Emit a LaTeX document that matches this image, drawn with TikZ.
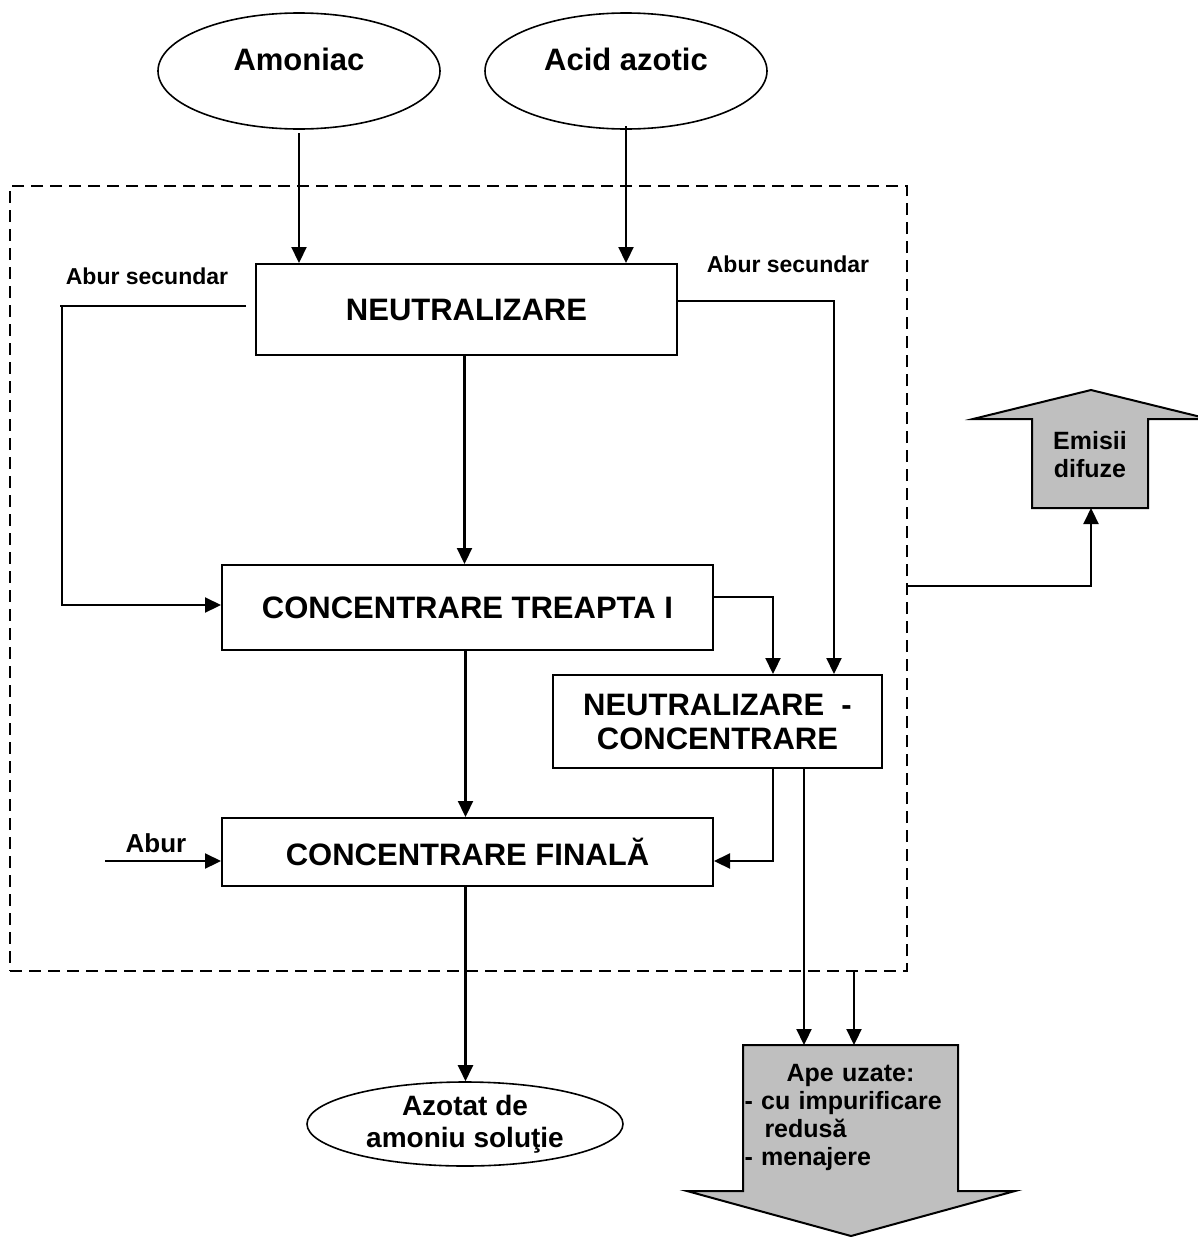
\documentclass[tikz,border=0pt]{standalone}
\usepackage{fontspec}
\setmainfont{Liberation Sans}
\usetikzlibrary{arrows.meta,shapes.geometric}
\tikzset{
	big/.style={font=\fontsize{31}{34}\selectfont\bfseries},
	small/.style={font=\fontsize{23}{26}\selectfont\bfseries},
	note/.style={font=\fontsize{25}{28}\selectfont\bfseries},
	proc/.style={draw, line width=2pt, big, align=center, inner sep=0pt},
	src/.style={draw, ellipse, line width=1.6pt, inner sep=0pt},
	flow/.style={line width=2.2pt, -{Triangle[length=16pt,width=15pt]}},
	outlet/.style={draw, line width=2pt, fill=black!25, line join=miter},
	border/.style={draw, line width=2pt, dash pattern=on 12pt off 7pt}
}

\begin{document}
\begin{tikzpicture}[x=1pt, y=-1pt]
		\useasboundingbox (0,0) rectangle (1198,1237);

		\node[border, minimum width=897pt, minimum height=785pt, inner sep=0pt] (plant) at (458.5,578.5) {};

		\node[src, minimum width=282pt, minimum height=116pt, label={[big, yshift=12pt]center:Amoniac}] (amoniac) at (299,71) {};
		\node[src, minimum width=282pt, minimum height=116pt, label={[big, yshift=12pt]center:Acid azotic}] (acid) at (626,71) {};

		\node[proc, minimum width=421pt, minimum height=91pt] (neutr) at (466.5,309.5) {NEUTRALIZARE};
		\node[proc, minimum width=491pt, minimum height=85pt] (conc1) at (467.5,607.5) {CONCENTRARE TREAPTA I};
		\node[proc, minimum width=329pt, minimum height=93pt] (neuconc) at (717.5,721.5) {NEUTRALIZARE\ \ -\\CONCENTRARE};
		\node[proc, minimum width=491pt, minimum height=68pt] (concfin) at (467.5,852) {CONCENTRARE FINALĂ};
		\node[src, minimum width=316pt, minimum height=84pt, font=\fontsize{28}{32}\selectfont\bfseries, align=center] (azotat) at (465,1124) {Azotat de\\amoniu soluţie};

		\node[small] (abur-st) at (147,276) {Abur secundar};
		\node[small] (abur-dr) at (788,264) {Abur secundar};
		\node[font=\fontsize{26}{28}\selectfont\bfseries] (abur) at (156,843) {Abur};

		\draw[outlet] (1032,508) -- (1032,419) -- (973,419) -- (1091,390) -- (1209,419) -- (1148,419) -- (1148,508) -- cycle;
		\node[note, align=center] (emisii) at (1090,455) {Emisii\\difuze};
		\coordinate (emisii-in) at (1091,508);

		\draw[outlet] (743,1045) -- (958,1045) -- (958,1191) -- (1015,1191) -- (851,1236) -- (687,1191) -- (743,1191) -- cycle;
		\node[note, text width=212pt, align=left, inner sep=0pt] (ape) at (850.5,1117) {\makebox[212pt][c]{Ape uzate:}\\- cu impurificare\\\hspace*{20pt}redusă\\- menajere};
		\coordinate (ape-in) at (851,1045);

		\coordinate (amoniac-out) at (299,133);
		\coordinate (acid-out) at (626,126);
		\coordinate (abur-st-in) at (246,306);
		\coordinate (abur-in) at (105,861);

		\draw[flow] (amoniac-out) -- (amoniac-out |- neutr.north);
		\draw[flow] (acid-out) -- (acid-out |- neutr.north);
		\draw[flow] (abur-st-in) -- (60,306) -- (62,306) |- ([yshift=2.5pt]conc1.west);
		\draw[flow] ([yshift=8.5pt]neutr.east) -| ([xshift=116.5pt]neuconc.north);
		\draw[flow] ([xshift=-2pt]neutr.south) -- ([xshift=-2pt]neutr.south |- conc1.north);
		\draw[flow] ([yshift=10.5pt]conc1.east) -| ([xshift=55.5pt]neuconc.north);
		\draw[flow] ([xshift=-2pt]conc1.south) -- ([xshift=-2pt]conc1.south |- concfin.north);
		\draw[flow] ([xshift=55.5pt]neuconc.south) |- (concfin.east |- abur-in);
		\draw[flow] (abur-in) -- (concfin.west |- abur-in);
		\draw[flow] ([xshift=-2pt]concfin.south) -- ([xshift=-2pt]concfin.south |- azotat.north);
		\draw[flow] ([xshift=86.5pt]neuconc.south) -- ([xshift=86.5pt]neuconc.south |- ape-in);
		\draw[flow] ([xshift=395.5pt]plant.south) -- ([xshift=395.5pt]plant.south |- ape-in);
		\draw[flow] ([yshift=-7.5pt]plant.east) -| (emisii-in);
	\end{tikzpicture}
\end{document}
